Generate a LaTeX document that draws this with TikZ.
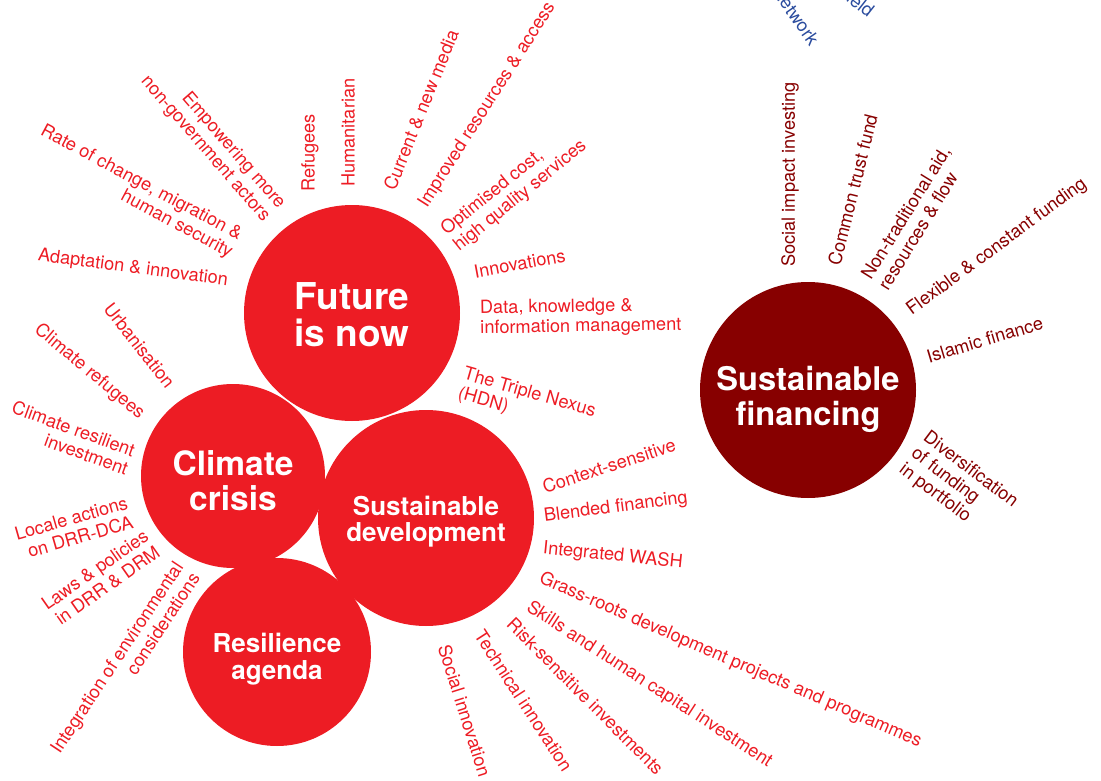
\documentclass[tikz,border=0pt]{standalone}
\usepackage{fontspec}
\setmainfont{TeX Gyre Heros}
\usepackage{xcolor}

\definecolor{hubred}{HTML}{ED1C24}
\definecolor{finred}{HTML}{870000}
\definecolor{netblue}{HTML}{2B4C9E}

\begin{document}
\begin{tikzpicture}[x=1pt, y=1pt,
    hub/.style={circle, fill=hubred, inner sep=0pt},
    hubtext/.style={text=white, inner sep=0pt, align=center},
    lbl/.style={text=hubred, inner sep=0pt, font=\fontsize{18.2}{20}\selectfont},
    finlbl/.style={lbl, text=finred},
    netlbl/.style={lbl, text=netblue}]

    \useasboundingbox (0, 0) rectangle (1101, -781);

    % The five circles
    \node[hub, minimum size=216pt] (future) at (352, -313) {};
    \node[hub, minimum size=184pt] (climate) at (233, -476) {};
    \node[hub, minimum size=216pt] (susdev) at (426, -518) {};
    \node[hub, minimum size=188pt] (resil) at (277, -652) {};
    \node[hub, fill=finred, minimum size=216pt] (susfin) at (808, -390) {};

    % their titles
    \node[hubtext, font=\fontsize{37}{37}\selectfont\bfseries] (futuretxt) at ([yshift=-2pt]future.center) {Future\\is now};
    \node[hubtext, font=\fontsize{33.5}{35}\selectfont\bfseries] (climatetxt) at ([yshift=-5pt]climate.center) {Climate\\crisis};
    \node[hubtext, font=\fontsize{26}{26}\selectfont\bfseries] (susdevtxt) at ([yshift=-4pt]susdev.center) {Sustainable\\development};
    \node[hubtext, font=\fontsize{26}{27}\selectfont\bfseries] (resiltxt) at ([yshift=-7pt]resil.center) {Resilience\\agenda};
    \node[hubtext, font=\fontsize{32.6}{35}\selectfont\bfseries] (susfintxt) at ([yshift=-9pt]susfin.center) {Sustainable\\financing};

    % Future is now
    \node[lbl, anchor=east, rotate=-7.5] (fadapt) at (228, -281) {Adaptation \& innovation};
    \node[lbl, anchor=east, rotate=-28, align=right] (frate) at (236, -245) {Rate of change, migration \&\\human security};
    \node[lbl, anchor=east, rotate=-49, align=right] (fempower) at (274, -213) {Empowering more\\non-government actors};
    \node[lbl, anchor=west, rotate=90] (frefug) at (310, -192) {Refugees};
    \node[lbl, anchor=west, rotate=90] (fhuman) at (348, -187) {Humanitarian};
    \node[lbl, anchor=west, rotate=68] (fmedia) at (389, -189) {Current \& new media};
    \node[lbl, anchor=west, rotate=57.5] (fimprov) at (423, -206) {Improved resources \& access};
    \node[lbl, anchor=west, rotate=39, align=left] (foptim) at (450, -240) {Optimised cost,\\high quality services};
    \node[lbl, anchor=west, rotate=10.5] (finnov) at (474, -272) {Innovations};
    \node[lbl, anchor=west, rotate=1, align=left] (fdata) at (480, -319) {Data, knowledge \&\\information management};
    \node[lbl, anchor=west, rotate=-16, align=left] (fnexus) at (461, -384) {The Triple Nexus\\(HDN)};

    % Climate crisis
    \node[lbl, anchor=east, rotate=-52] (curban) at (171, -386) {Urbanisation};
    \node[lbl, anchor=east, rotate=-40] (crefug) at (142, -416) {Climate refugees};
    \node[lbl, anchor=east, rotate=-20, align=right] (cinvest) at (131, -460) {Climate resilient\\investment};
    \node[lbl, anchor=east, rotate=16, align=right] (clocal) at (130, -512) {Locale actions\\on DRR-DCA};
    \node[lbl, anchor=east, rotate=35, align=right] (claws) at (152, -542) {Laws \& policies\\in DRR \& DRM};
    \node[lbl, anchor=east, rotate=56.5, align=right] (cenv) at (187, -569) {Integration of environmental\\considerations};

    % Sustainable development
    \node[lbl, anchor=west, rotate=18] (dcontext) at (543, -487) {Context-sensitive};
    \node[lbl, anchor=west, rotate=7.5] (dblend) at (544, -517) {Blended financing};
    \node[lbl, anchor=west, rotate=-5.7] (dwash) at (543, -549) {Integrated WASH};
    \node[lbl, anchor=west, rotate=-23.4] (dgrass) at (540, -578) {Grass-roots development projects and programmes};
    \node[lbl, anchor=west, rotate=-33] (dskills) at (528, -606) {Skills and human capital investment};
    \node[lbl, anchor=west, rotate=-45] (drisk) at (510, -621) {Risk-sensitive investments};
    \node[lbl, anchor=west, rotate=-57] (dtech) at (479, -632) {Technical innovation};
    \node[lbl, anchor=west, rotate=-72.5] (dsocial) at (444, -645) {Social innovation};

    % Sustainable financing
    \node[finlbl, anchor=west, rotate=90] (simpact) at (790, -267) {Social impact investing};
    \node[finlbl, anchor=west, rotate=76] (strust) at (834, -265) {Common trust fund};
    \node[finlbl, anchor=west, rotate=58.3, align=left] (snontrad) at (874, -283) {Non-traditional aid,\\resources \& flow};
    \node[finlbl, anchor=west, rotate=36.3] (sflex) at (909, -312) {Flexible \& constant funding};
    \node[finlbl, anchor=west, rotate=16.7] (sislam) at (927, -357) {Islamic finance};
    \node[finlbl, anchor=west, rotate=-37, align=left] (sdivers) at (913, -452) {Diversification\\of funding\\in portfolio};

    % cut-off words at the top edge
    \begin{scope}
        \clip (0, 0) rectangle (1101, -781);
        \node[netlbl, anchor=east, rotate=-55] (nnet) at (815, -43) {network};
        \node[netlbl, anchor=east, rotate=-38] (nfield) at (872, -13) {field};
    \end{scope}

\end{tikzpicture}
\end{document}
